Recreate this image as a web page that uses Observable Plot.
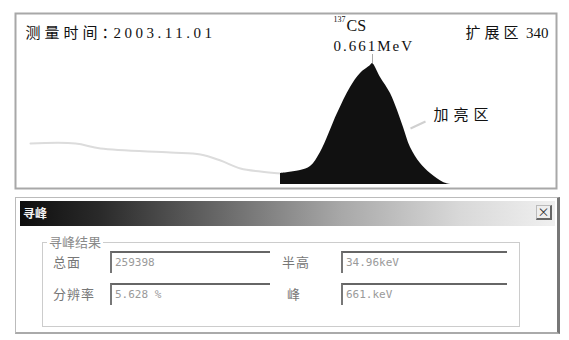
<!DOCTYPE html>
<html><head><meta charset="utf-8">
<script src="https://cdn.jsdelivr.net/npm/d3@7"></script>
<script src="https://cdn.jsdelivr.net/npm/@observablehq/plot@0.6"></script>
<style>
body{margin:0;background:#fff;width:569px;height:340px;overflow:hidden;position:relative;font-family:"Noto Sans CJK SC",sans-serif;}
#chart{position:absolute;left:0;top:0;}
.abs{position:absolute;}
.dlg{left:15px;top:197px;width:545px;height:137px;border:1px solid #bbb;border-right:3px solid #777;border-bottom:2px solid #aaa;box-sizing:border-box;background:#fff;}
.bar{left:20px;top:201px;width:535px;height:25px;background:linear-gradient(to right,#0e0e0e 0%,#2a2a2a 15%,#6a6a6a 38%,#a8a8a8 60%,#d8d8d8 82%,#f0f0f0 100%);}
.ttl{left:23px;top:204px;color:#f4f4f4;font-size:12px;font-weight:bold;}
.cls{left:536px;top:205px;width:16px;height:15px;border:1px solid #bbb;border-right:2px solid #666;border-bottom:2px solid #666;box-sizing:border-box;font-size:12px;line-height:12px;text-align:center;color:#333;background:#eee;}
.grp{left:42px;top:242px;width:478px;height:85px;border:1px solid #ccc;box-sizing:border-box;}
.glab{left:47px;top:234px;background:#fff;color:#8a8a8a;font-size:13px;padding:0 2px;line-height:16px;}
.lab{color:#777;font-size:13px;line-height:16px;letter-spacing:1px;}
.fld{border-top:2px solid #666;border-left:2px solid #777;box-sizing:border-box;height:22px;color:#9a9a9a;font-size:11px;font-family:"DejaVu Sans Mono",monospace;padding:3px 0 0 3px;}
</style></head><body>
<div id="chart"></div>
<div class="abs dlg"></div>
<div class="abs bar"></div>
<div class="abs ttl" id="ttl"></div>
<div class="abs cls">×</div>
<div class="abs grp"></div>
<div class="abs glab" id="glab"></div>
<div class="abs lab" id="l0" style="left:53px;top:254px"></div>
<div class="abs lab" id="l1" style="left:282px;top:254px"></div>
<div class="abs lab" id="l2" style="left:53px;top:286px"></div>
<div class="abs lab" id="l3" style="left:287px;top:286px"></div>
<div class="abs fld" id="f0" style="left:110px;top:251px;width:160px"></div>
<div class="abs fld" id="f1" style="left:341px;top:251px;width:166px"></div>
<div class="abs fld" id="f2" style="left:110px;top:283px;width:160px"></div>
<div class="abs fld" id="f3" style="left:341px;top:283px;width:166px"></div>
<script>
// Spectrum data (channel, counts)
const peakChannel = [265, 285, 295, 305, 322, 335, 345, 355, 357, 365, 375, 382, 388, 395, 405, 415, 428, 435];
const peakCounts  = [11, 14, 18, 32, 71, 97, 111, 119, 121, 107, 91, 74, 57, 37, 21, 11, 2, 0];
const bgChannel = [15, 60, 85, 155, 185, 205, 225, 245, 265];
const bgCounts  = [41, 41, 36, 32, 30, 24, 16, 13, 11];

// Dialog texts
const dialogTitle = "寻峰";
const groupTitle = "寻峰结果";
const fieldLabels = ["总面", "半高", "分辨率", "峰"];
const fieldValues = ["259398", "34.96keV", "5.628 %", "661.keV"];

// Annotations
const dateLabel = "测量时间：";
const dateValue = "2003.11.01";
const isotope = "CS";
const isotopeMass = "137";
const energy = "0.661MeV";
const expandLabel = "扩展区";
const expandValue = "340";
const brightLabel = "加亮区";

const peak = peakChannel.map((c, i) => ({c, v: peakCounts[i]}));
const bg = bgChannel.map((c, i) => ({c, v: bgCounts[i]}));

const serif = "Liberation Serif, Times New Roman, serif";
const cjk = "Noto Sans CJK SC, sans-serif";

const plot = Plot.plot({
  width: 569, height: 192,
  marginLeft: 15, marginRight: 13, marginTop: 13, marginBottom: 4,
  x: {domain: [0, 541], axis: null},
  y: {domain: [-4, 171], axis: null},
  marks: [
    Plot.frame({stroke: "#a8a8a8", strokeWidth: 2}),
    Plot.line(bg, {x: "c", y: "v", stroke: "#dcdcdc", strokeWidth: 2, curve: "catmull-rom"}),
    Plot.areaY(peak, {x: "c", y: "v", fill: "#111", curve: "catmull-rom"}),
    Plot.ruleX([357], {y1: 121, y2: 130, stroke: "#aaa", strokeWidth: 1}),
    Plot.link([{x1: 395, y1: 56, x2: 410, y2: 63}], {x1: "x1", y1: "y1", x2: "x2", y2: "y2", stroke: "#d0d0d0", strokeWidth: 2}),
    Plot.text([dateLabel], {x: 10, y: 151, text: d => d, textAnchor: "start", fontFamily: cjk, fontSize: 15, fill: "#111"}),
    Plot.text([dateValue], {x: 98, y: 151, text: d => d, textAnchor: "start", fontFamily: serif, fontSize: 15, fill: "#111"}),
    Plot.text([isotopeMass], {x: 318, y: 165, text: d => d, textAnchor: "start", fontFamily: serif, fontSize: 8, fill: "#111"}),
    Plot.text([isotope], {x: 331, y: 159, text: d => d, textAnchor: "start", fontFamily: serif, fontSize: 16, fill: "#111"}),
    Plot.text([energy], {x: 318, y: 138, text: d => d, textAnchor: "start", fontFamily: serif, fontSize: 15, fill: "#111"}),
    Plot.text([expandLabel], {x: 450, y: 151, text: d => d, textAnchor: "start", fontFamily: cjk, fontSize: 15, fill: "#111"}),
    Plot.text([expandValue], {x: 533, y: 151, text: d => d, textAnchor: "end", fontFamily: serif, fontSize: 15, fill: "#111"}),
    Plot.text([brightLabel], {x: 418, y: 69, text: d => d, textAnchor: "start", fontFamily: cjk, fontSize: 15, fill: "#111"})
  ]
});
d3.select(plot).selectAll("text").each(function() {
  const t = this.textContent;
  const sp = {[dateLabel]: "4px", [dateValue]: "3.5px", [energy]: "2px", [expandLabel]: "4px", [brightLabel]: "5px"}[t];
  if (sp) d3.select(this).attr("letter-spacing", sp);
});
document.getElementById("chart").appendChild(plot);

document.getElementById("ttl").textContent = dialogTitle;
document.getElementById("glab").textContent = groupTitle;
fieldLabels.forEach((l, i) => document.getElementById("l" + i).textContent = l);
fieldValues.forEach((v, i) => document.getElementById("f" + i).textContent = v);
</script>
</body></html>
